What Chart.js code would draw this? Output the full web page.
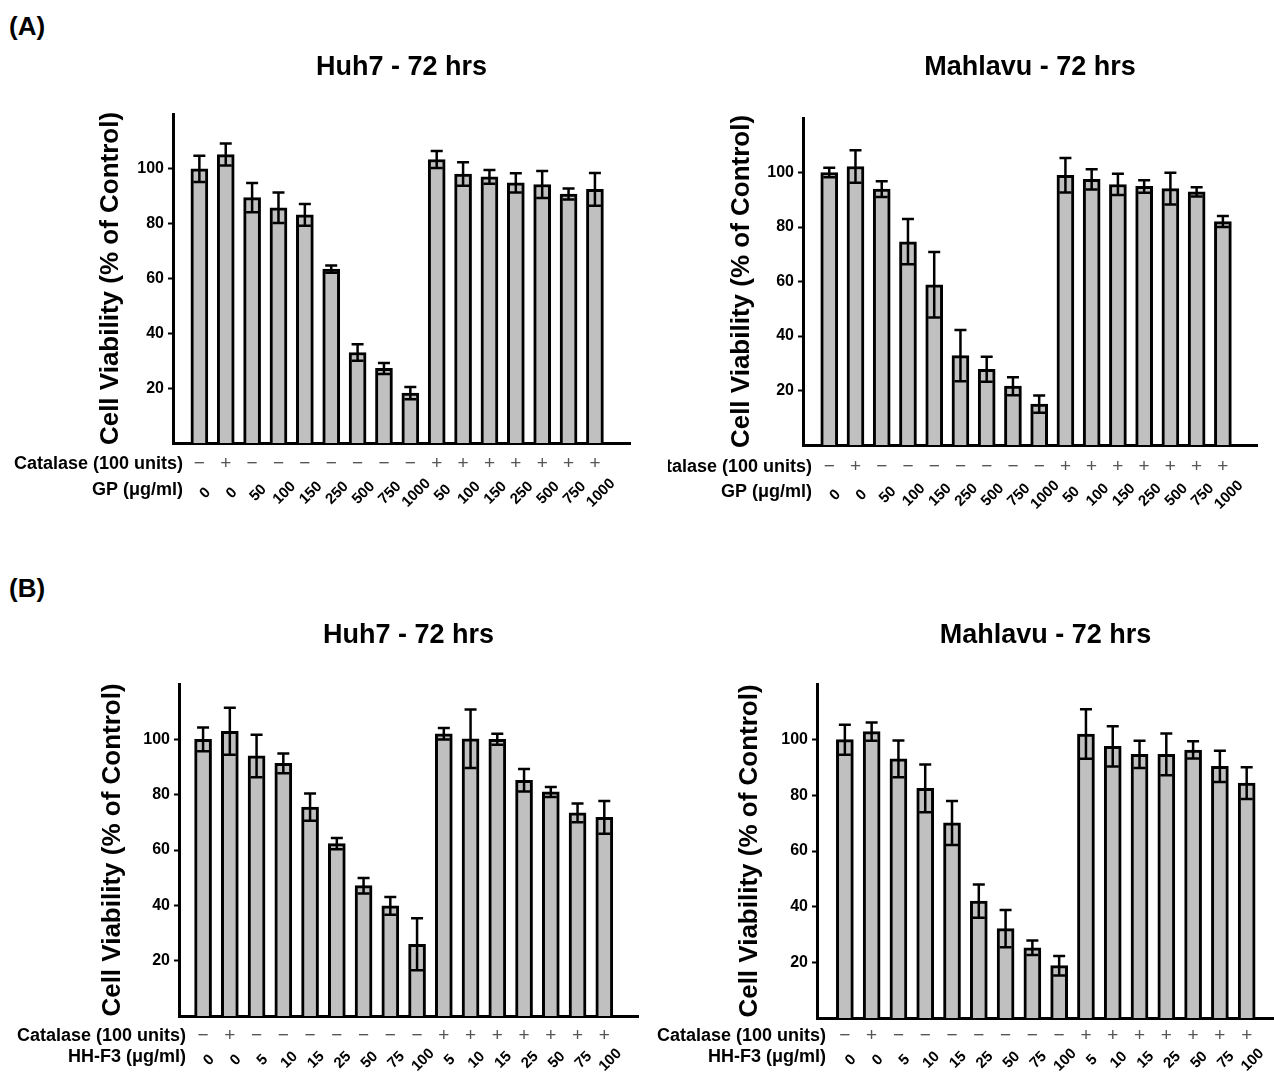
<!DOCTYPE html>
<html><head><meta charset="utf-8">
<script src="https://cdn.jsdelivr.net/npm/chart.js@4/dist/chart.umd.min.js"></script>
<style>
html,body{margin:0;padding:0;background:#fff;width:1274px;height:1072px;overflow:hidden;position:relative}
canvas{position:absolute;display:block}
.lbl{position:absolute;font:bold 26px "Liberation Sans",Arial,sans-serif;line-height:30px;color:#000}
</style></head><body>
<div class="lbl" style="left:9px;top:11px">(A)</div>
<div class="lbl" style="left:9px;top:573px">(B)</div>
<canvas id="c1" style="left:0px;top:0px" width="640" height="530"></canvas>
<canvas id="c2" style="left:668px;top:0px" width="606" height="530"></canvas>
<canvas id="c3" style="left:0px;top:560px" width="640" height="512"></canvas>
<canvas id="c4" style="left:640px;top:560px" width="634" height="512"></canvas>
<script>
// ---- data ----
const gpDoses = ['0','0','50','100','150','250','500','750','1000','50','100','150','250','500','750','1000'];
const hhDoses = ['0','0','5','10','15','25','50','75','100','5','10','15','25','50','75','100'];
const catalase = ['−','+','−','−','−','−','−','−','−','+','+','+','+','+','+','+'];
const yTicks = [20,40,60,80,100];

const huh7GpMean = [100,105.2,89.5,85.8,83.2,63.4,33.0,27.2,18.2,103.4,98.1,97.1,94.9,94.3,90.8,92.5];
const huh7GpErr  = [4.8,4.0,5.3,5.6,4.0,1.3,3.0,2.0,2.2,3.1,4.3,2.5,3.5,4.9,2.0,6.0];
const mahlavuGpMean = [100,102.2,93.9,74.6,58.8,32.8,27.8,21.6,15.0,99.0,97.5,95.6,94.9,94.1,92.9,82.0];
const mahlavuGpErr  = [1.7,6.0,2.9,8.3,12.0,9.4,4.6,3.3,3.2,6.3,3.7,3.9,2.3,5.8,1.7,2.0];
const huh7HhMean = [100,102.9,94.0,91.3,75.5,62.3,47.1,39.8,25.9,102.0,100.2,100,85.2,81.0,73.4,71.8];
const huh7HhErr  = [4.3,8.5,7.7,3.6,4.9,2.0,2.8,3.2,9.4,2.1,10.6,2.0,4.1,1.8,3.4,5.9];
const mahlavuHhMean = [100,102.9,93.1,82.5,70.1,42.0,32.1,25.2,18.8,102.0,97.6,94.7,94.7,96.3,90.4,84.4];
const mahlavuHhErr  = [5.4,3.3,6.6,8.6,7.9,6.0,6.7,2.6,3.5,8.9,7.2,4.9,7.5,3.1,5.6,5.7];

const titleHuh7 = 'Huh7 - 72 hrs';
const titleMahlavu = 'Mahlavu - 72 hrs';
const yTitle = 'Cell Viability (% of Control)';
const catLabel = 'Catalase (100 units)';
const gpLabel = 'GP (μg/ml)';
const hhLabel = 'HH-F3 (μg/ml)';

const FONT = '"Liberation Sans", Arial, sans-serif';

const panels = [
  {id:'c1', title:titleHuh7, doseLabel:gpLabel, doses:gpDoses, mean:huh7GpMean, err:huh7GpErr,
   area:{left:173, top:114, right:630, bottom:443}, xMin:-1.0, xMax:16.33,
   titleY:68, yTitleX:111, rowRight:183, catY:464, doseY:493, rowFont:18},
  {id:'c2', title:titleMahlavu, doseLabel:gpLabel, doses:gpDoses, mean:mahlavuGpMean, err:mahlavuGpErr,
   area:{left:135, top:118, right:589, bottom:445}, xMin:-1.0, xMax:16.3,
   titleY:68, yTitleX:74, rowRight:144, catY:467, doseY:495, rowFont:18},
  {id:'c3', title:titleHuh7, doseLabel:hhLabel, doses:hhDoses, mean:huh7HhMean, err:huh7HhErr,
   area:{left:179, top:124, right:638, bottom:456}, xMin:-0.9, xMax:16.26,
   titleY:76, yTitleX:113, rowRight:186, catY:476, doseY:500, rowFont:18},
  {id:'c4', title:titleMahlavu, doseLabel:hhLabel, doses:hhDoses, mean:mahlavuHhMean, err:mahlavuHhErr,
   area:{left:177, top:124, right:634, bottom:458}, xMin:-1.04, xMax:16.02,
   titleY:76, yTitleX:110, rowRight:186, catY:476, doseY:500, rowFont:18}
];

function makePanel(p){
  const canvas = document.getElementById(p.id);
  const W = canvas.width, H = canvas.height;
  const annot = {
    id:'annot_'+p.id,
    afterDatasetsDraw(chart){
      const ctx = chart.ctx, xs = chart.scales.x, ys = chart.scales.y;
      ctx.save();
      ctx.strokeStyle = '#000'; ctx.lineWidth = 2.5;
      p.mean.forEach((v,i)=>{
        const x = xs.getPixelForValue(i);
        const yt = ys.getPixelForValue(v + p.err[i]);
        const yb = ys.getPixelForValue(v - p.err[i]);
        ctx.beginPath();
        ctx.moveTo(x, yt); ctx.lineTo(x, yb);
        ctx.moveTo(x-6, yt); ctx.lineTo(x+6, yt);
        ctx.moveTo(x-6, yb); ctx.lineTo(x+6, yb);
        ctx.stroke();
      });
      ctx.restore();
    },
    afterDraw(chart){
      const ctx = chart.ctx, xs = chart.scales.x, a = chart.chartArea;
      ctx.save();
      ctx.fillStyle = '#000';
      // title
      ctx.font = 'bold 27px ' + FONT;
      ctx.textAlign = 'center'; ctx.textBaseline = 'middle';
      ctx.fillText(p.title, (a.left + a.right)/2, p.titleY);
      // y title
      ctx.save();
      ctx.translate(p.yTitleX, (a.top + a.bottom)/2);
      ctx.rotate(-Math.PI/2);
      ctx.font = 'bold 26px ' + FONT;
      ctx.fillText(yTitle, 0, 0);
      ctx.restore();
      // row labels
      ctx.font = 'bold ' + p.rowFont + 'px ' + FONT;
      ctx.textAlign = 'right';
      ctx.fillText(catLabel, p.rowRight, p.catY);
      ctx.fillText(p.doseLabel, p.rowRight, p.doseY - 3);
      // catalase symbols
      ctx.textAlign = 'center';
      ctx.font = '19px ' + FONT;
      ctx.fillStyle = '#555';
      catalase.forEach((s,i)=>{
        ctx.fillText(s, xs.getPixelForValue(i), p.catY);
      });
      // dose labels rotated
      ctx.fillStyle = '#000';
      ctx.font = 'bold 15px ' + FONT;
      p.doses.forEach((d,i)=>{
        ctx.save();
        ctx.translate(xs.getPixelForValue(i) + 6, p.doseY);
        ctx.rotate(-Math.PI/4);
        ctx.fillText(d, 0, 0);
        ctx.restore();
      });
      ctx.restore();
    }
  };
  new Chart(canvas, {
    type:'bar',
    data:{datasets:[{
      data:p.mean.map((v,i)=>({x:i, y:v})),
      backgroundColor:'#c0c0c0', borderColor:'#000', borderWidth:3,
      barThickness:17, borderSkipped:'start'
    }]},
    options:{
      responsive:false, animation:false, devicePixelRatio:1,
      layout:{padding:{left:0, top:p.area.top, right:W - p.area.right, bottom:0}},
      plugins:{legend:{display:false}, tooltip:{enabled:false}, title:{display:false}},
      scales:{
        x:{type:'linear', min:p.xMin, max:p.xMax, offset:false,
           grid:{display:true, drawOnChartArea:false, drawTicks:false},
           border:{display:true, color:'#000', width:3},
           ticks:{display:false},
           afterFit:s=>{ s.height = H - p.area.bottom; }},
        y:{min:0, max:120,
           grid:{display:true, drawOnChartArea:false, drawTicks:true, tickLength:5, tickWidth:2, tickColor:'#000'},
           border:{display:true, color:'#000', width:3},
           ticks:{font:{family:FONT, size:16, weight:'bold'}, color:'#000', padding:4},
           afterBuildTicks:s=>{ s.ticks = yTicks.map(v=>({value:v})); },
           afterFit:s=>{ s.width = p.area.left; }}
      }
    },
    plugins:[annot]
  });
}
panels.forEach(makePanel);
</script>
</body></html>
